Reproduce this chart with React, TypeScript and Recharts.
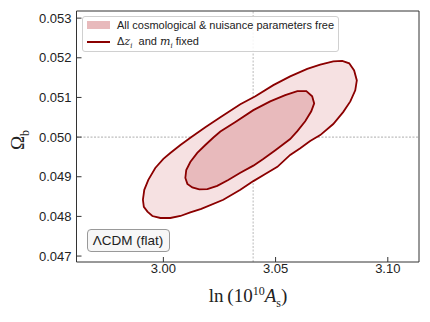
import React from 'react';
import { ComposedChart, Scatter, XAxis, YAxis, ReferenceLine } from 'recharts';

// Contours, as closed loops (x = ln(10^10 As), y = Omega_b)
const outerX = [2.9909, 2.9915, 2.9933, 2.9964, 3.0, 3.0031, 3.0076, 3.0125, 3.0187, 3.0254, 3.0343, 3.041, 3.049, 3.0565, 3.0641, 3.0699, 3.0757, 3.0797, 3.0828, 3.085, 3.0862, 3.0855, 3.0833, 3.0801, 3.0757, 3.0699, 3.0654, 3.061, 3.0565, 3.0508, 3.0454, 3.0401, 3.0343, 3.0267, 3.0169, 3.012, 3.0076, 3.0031, 2.9987, 2.9951, 2.9929, 2.9913];
const outerY = [0.04842, 0.04867, 0.04892, 0.04922, 0.04945, 0.0496, 0.0498, 0.05, 0.05025, 0.0505, 0.05083, 0.05103, 0.05131, 0.05153, 0.05172, 0.05183, 0.05191, 0.05192, 0.05186, 0.05168, 0.05143, 0.05118, 0.0509, 0.05063, 0.05033, 0.05005, 0.0499, 0.04972, 0.04955, 0.04925, 0.04907, 0.04889, 0.04867, 0.04842, 0.04819, 0.0481, 0.04801, 0.04796, 0.04796, 0.04801, 0.04812, 0.04824];

const innerX = [3.0098, 3.0102, 3.012, 3.0151, 3.0187, 3.0223, 3.0254, 3.0321, 3.0401, 3.0476, 3.0543, 3.0597, 3.0637, 3.0663, 3.0672, 3.0659, 3.0632, 3.0597, 3.0565, 3.0499, 3.0445, 3.0401, 3.0343, 3.0289, 3.024, 3.0196, 3.016, 3.0129, 3.0107];
const innerY = [0.04897, 0.04917, 0.04937, 0.0496, 0.0498, 0.04999, 0.05014, 0.05038, 0.05068, 0.0509, 0.05106, 0.05116, 0.05116, 0.05103, 0.05085, 0.05065, 0.0504, 0.05015, 0.04995, 0.04967, 0.04945, 0.04928, 0.0491, 0.04892, 0.04877, 0.04869, 0.04868, 0.04873, 0.04882];

const xTicks = [3.0, 3.05, 3.1];
const yTicks = [0.047, 0.048, 0.049, 0.05, 0.051, 0.052, 0.053];
const fiducialX = 3.04;
const fiducialY = 0.05;

const toPoints = (xs: number[], ys: number[]) => xs.map((x, i) => ({ x, y: ys[i] }));
const outer = toPoints(outerX, outerY);
const inner = toPoints(innerX, innerY);

const noDot = () => <g />;
const DARK = '#8b0000';
const FRAME = '#333';
const tickFont = { fontSize: 13, fill: '#222', fontFamily: 'Liberation Sans, Arial, sans-serif' };
const mathFont = { fontFamily: 'DejaVu Serif, serif', fontStyle: 'italic' as const };

export default function App() {
    return (
        <div style={{ position: 'absolute', left: 0, top: 0, width: 430, height: 322, background: '#fff' }}>
            <ComposedChart width={430} height={322} margin={{ top: 10, right: 10, left: 0, bottom: 0 }}>
                <XAxis
                    type="number"
                    dataKey="x"
                    domain={[2.9613, 3.1139]}
                    ticks={xTicks}
                    tickFormatter={(v) => v.toFixed(2)}
                    height={60}
                    tickSize={-5}
                    tickMargin={7}
                    stroke={FRAME}
                    tick={tickFont}
                    allowDataOverflow
                />
                <XAxis xAxisId="top" orientation="top" type="number" domain={[2.9613, 3.1139]} ticks={xTicks} height={1} tickSize={-5} tick={false} stroke={FRAME} allowDataOverflow />
                <YAxis
                    type="number"
                    dataKey="y"
                    domain={[0.04685, 0.05318]}
                    ticks={yTicks}
                    tickFormatter={(v) => v.toFixed(3)}
                    width={76.5}
                    tickSize={-5}
                    tickMargin={10}
                    stroke={FRAME}
                    tick={tickFont}
                    allowDataOverflow
                />
                <YAxis yAxisId="right" orientation="right" type="number" domain={[0.04685, 0.05318]} ticks={yTicks} width={1} tickSize={-5} tick={false} stroke={FRAME} allowDataOverflow />

                {/* all cosmological & nuisance parameters free: filled */}
                <Scatter data={outer} shape={noDot} isAnimationActive={false} lineJointType="linearClosed"
                    line={{ fill: '#f6e1e2', stroke: '#ecc9cb', strokeWidth: 1 }} />
                <Scatter data={inner} shape={noDot} isAnimationActive={false} lineJointType="linearClosed"
                    line={{ fill: '#e8babc', stroke: '#e4b0b3', strokeWidth: 1 }} />

                <ReferenceLine x={fiducialX} stroke="#aaa" strokeWidth={0.8} strokeDasharray="2 1.5" />
                <ReferenceLine y={fiducialY} stroke="#999" strokeWidth={0.8} strokeDasharray="2 1.5" />

                {/* delta z_i and m_i fixed: outlines */}
                <Scatter data={outer} shape={noDot} isAnimationActive={false} lineJointType="linearClosed"
                    line={{ fill: 'none', stroke: DARK, strokeWidth: 1.8 }} />
                <Scatter data={inner} shape={noDot} isAnimationActive={false} lineJointType="linearClosed"
                    line={{ fill: 'none', stroke: DARK, strokeWidth: 1.8 }} />
            </ComposedChart>

            {/* legend */}
            <div style={{ position: 'absolute', left: 81.5, top: 16, width: 255, height: 34, border: '1px solid #d0d0d0', borderRadius: 3, background: 'rgba(255,255,255,0.85)', fontFamily: 'Liberation Sans, Arial, sans-serif', fontSize: 11, color: '#222' }}>
                <div style={{ position: 'absolute', left: 4, top: 4, width: 23, height: 8, background: '#e8babc' }} />
                <div style={{ position: 'absolute', left: 34.5, top: 1.5, whiteSpace: 'nowrap' }}>All cosmological &amp; nuisance parameters free</div>
                <div style={{ position: 'absolute', left: 4, top: 23.5, width: 23, height: 2, background: DARK }} />
                <div style={{ position: 'absolute', left: 34.5, top: 17.5, whiteSpace: 'nowrap' }}>
                    Δ<span style={mathFont}>z</span><sub style={{ ...mathFont, fontSize: 7 }}>i</sub>
                    {'\u00a0\u00a0'}and <span style={mathFont}>m</span><sub style={{ ...mathFont, fontSize: 7 }}>i</sub> fixed
                </div>
            </div>

            {/* annotation */}
            <div style={{ position: 'absolute', left: 86.5, top: 229, width: 81, height: 21, border: '1px solid #999', borderRadius: 4, background: '#f7f7f7', fontFamily: 'Liberation Sans, Arial, sans-serif', fontSize: 13.5, color: '#222', display: 'flex', alignItems: 'center', justifyContent: 'center', whiteSpace: 'nowrap' }}>
                ΛCDM (flat)
            </div>

            {/* axis titles */}
            <div style={{ position: 'absolute', left: 150, top: 284, width: 196, textAlign: 'center', fontFamily: 'Liberation Serif, serif', fontSize: 19, color: '#222', whiteSpace: 'nowrap' }}>
                ln{'\u2009'}(10<sup style={{ fontSize: 12 }}>10</sup><i>A</i><sub style={{ fontSize: 12 }}>s</sub>)
            </div>
            <div style={{ position: 'absolute', left: 20, top: 140, transform: 'translate(-50%, -50%) rotate(-90deg)', fontFamily: 'Liberation Serif, serif', fontSize: 19, color: '#222', whiteSpace: 'nowrap' }}>
                Ω<sub style={{ fontSize: 12 }}>b</sub>
            </div>
        </div>
    );
}
